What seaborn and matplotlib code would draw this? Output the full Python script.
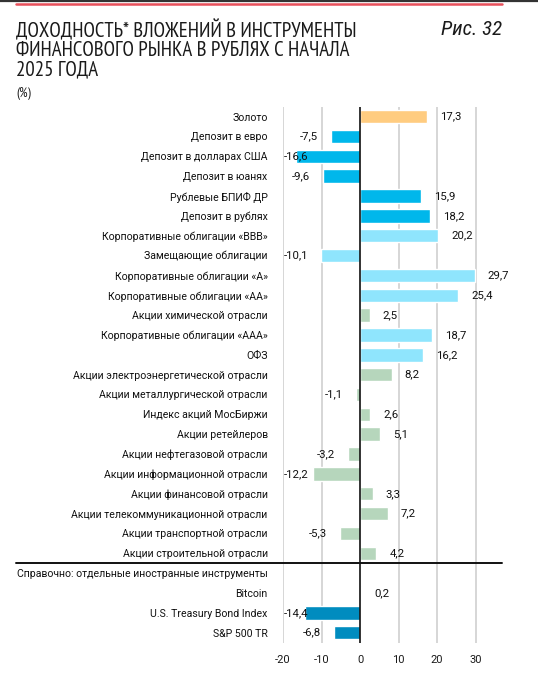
import numpy as np
import pandas as pd
import matplotlib.pyplot as plt
import seaborn as sns
from matplotlib.lines import Line2D
from matplotlib import font_manager as fm
from matplotlib.ft2font import FT2Font

# Data
labels = [
    "Золото", "Депозит в евро", "Депозит в долларах США", "Депозит в юанях",
    "Рублевые БПИФ ДР", "Депозит в рублях", "Корпоративные облигации «BBB»",
    "Замещающие облигации", "Корпоративные облигации «А»",
    "Корпоративные облигации «АА»", "Акции химической отрасли",
    "Корпоративные облигации «ААА»", "ОФЗ",
    "Акции электроэнергетической отрасли", "Акции металлургической отрасли",
    "Индекс акций МосБиржи", "Акции ретейлеров", "Акции нефтегазовой отрасли",
    "Акции информационной отрасли", "Акции финансовой отрасли",
    "Акции телекоммуникационной отрасли", "Акции транспортной отрасли",
    "Акции строительной отрасли",
    "Справочно: отдельные иностранные инструменты",
    "Bitcoin", "U.S. Treasury Bond Index", "S&P 500 TR",
]
values = [17.3, -7.5, -16.6, -9.6, 15.9, 18.2, 20.2, -10.1, 29.7, 25.4, 2.5,
          18.7, 16.2, 8.2, -1.1, 2.6, 5.1, -3.2, -12.2, 3.3, 7.2, -5.3, 4.2,
          np.nan, 0.2, -14.4, -6.8]
groups = ["gold", "dep", "dep", "dep", "dep", "dep", "bond", "bond", "bond",
          "bond", "stock", "bond", "bond", "stock", "stock", "stock", "stock",
          "stock", "stock", "stock", "stock", "stock", "stock", "none",
          "foreign", "foreign", "foreign"]
xticks = [-20, -10, 0, 10, 20, 30]

palette = {"gold": "#FFCC80", "dep": "#00B7EB", "bond": "#8FE5FD",
           "stock": "#B6D6BC", "foreign": "#008CBF", "none": "#FFFFFF"}

df = pd.DataFrame({"label": labels, "value": values, "group": groups})

sns.set_theme(style="white")
plt.rcParams["font.family"] = ["Roboto", "DejaVu Sans"]


def has_cyrillic(fname):
    try:
        cmap = FT2Font(fname).get_charmap()
    except Exception:
        return False
    return all(ord(c) in cmap for c in "ДОХЖЙЫЬРисГ")


# narrow / condensed face for the title (must have Cyrillic), narrowest first
narrow = [f for f in fm.fontManager.ttflist
          if ("Condensed" in f.fname or "Narrow" in f.fname) and has_cyrillic(f.fname)]
rank = ["Narrow", "Roboto", "Open", "Noto", "Liberation", "DejaVu"]
narrow.sort(key=lambda f: next((k for k, r in enumerate(rank) if r in f.fname), 99))


def pick(italic):
    for f in narrow:
        is_it = ("Italic" in f.fname or "Oblique" in f.fname)
        bad = any(w in f.fname for w in ("Bold", "Light", "Thin", "Medium", "Black", "Semi", "Extra"))
        if is_it == italic and not bad:
            return fm.FontProperties(fname=f.fname)
    return None


title_fp = pick(False)
title_it = pick(True)
if title_fp is None:
    title_fp = fm.FontProperties(family=["Roboto", "DejaVu Sans"])
if title_it is None:
    title_it = fm.FontProperties(family=["Roboto", "DejaVu Sans"], style="italic")

fig = plt.figure(figsize=(5.38, 6.75), dpi=100)
ax = fig.add_axes([283 / 538, 1 - 642.6 / 675, (495 - 283) / 538, (642.6 - 106.7) / 675])

sns.barplot(data=df, y="label", x="value", hue="group", order=labels,
            palette=palette, dodge=False, width=0.68, legend=False,
            saturation=1, orient="h", ax=ax, zorder=2)

ax.set_xlim(-20, 35)
ax.set_ylim(len(labels) - 0.5, -0.5)
ax.set_xticks(xticks)
ax.set_xticklabels([str(t) for t in xticks], fontsize=8, color="#1a1a1a")
ax.tick_params(axis="x", length=0, pad=9)
ax.tick_params(axis="y", length=0, pad=11, labelsize=7.6, labelcolor="#111111")
ax.set_xlabel("")
ax.set_ylabel("")
for s in ax.spines.values():
    s.set_visible(False)

for t in xticks:
    if t != 0:
        ax.axvline(t, color="#d0d0d0", lw=1.2, zorder=0)
ax.axvline(0, color="#111111", lw=1.2, zorder=3)

# value labels
for i, v in enumerate(values):
    if np.isnan(v):
        continue
    txt = f"{v:.1f}".replace(".", ",")
    if v >= 0:
        ax.text(v + 3.4, i, txt, ha="left", va="center", fontsize=8.2, color="#111111")
    elif v < -12:
        ax.text(-19.8, i, txt, ha="left", va="center", fontsize=8.2, color="#111111")
    else:
        ax.text(v - 3.4, i, txt, ha="right", va="center", fontsize=8.2, color="#111111")

# decorations in figure coords
fig.add_artist(Line2D([0, 1], [1 - 0.8 / 675, 1 - 0.8 / 675], color="#333333", lw=1.6))
fig.add_artist(Line2D([16 / 538, 502 / 538], [1 - 3.5 / 675, 1 - 3.5 / 675],
                      color="#E8505B", lw=1.8))
fig.add_artist(Line2D([16 / 538, 502 / 538], [1 - 563 / 675, 1 - 563 / 675],
                      color="#111111", lw=1.4))

fig.text(16 / 538, 1 - 20 / 675,
         "ДОХОДНОСТЬ* ВЛОЖЕНИЙ В ИНСТРУМЕНТЫ\nФИНАНСОВОГО РЫНКА В РУБЛЯХ С НАЧАЛА\n2025 ГОДА",
         ha="left", va="top", fontproperties=title_fp, fontsize=15,
         linespacing=0.99, color="#1a1a1a")
fig.text(502 / 538, 1 - 20 / 675, "Рис. 32", ha="right", va="top",
         fontproperties=title_it, fontsize=15, color="#1a1a1a")
fig.text(16 / 538, 1 - 87 / 675, "(%)", ha="left", va="top", fontsize=9.5,
         fontproperties=title_fp, color="#1a1a1a")

fig.savefig("out.png", dpi=100)
